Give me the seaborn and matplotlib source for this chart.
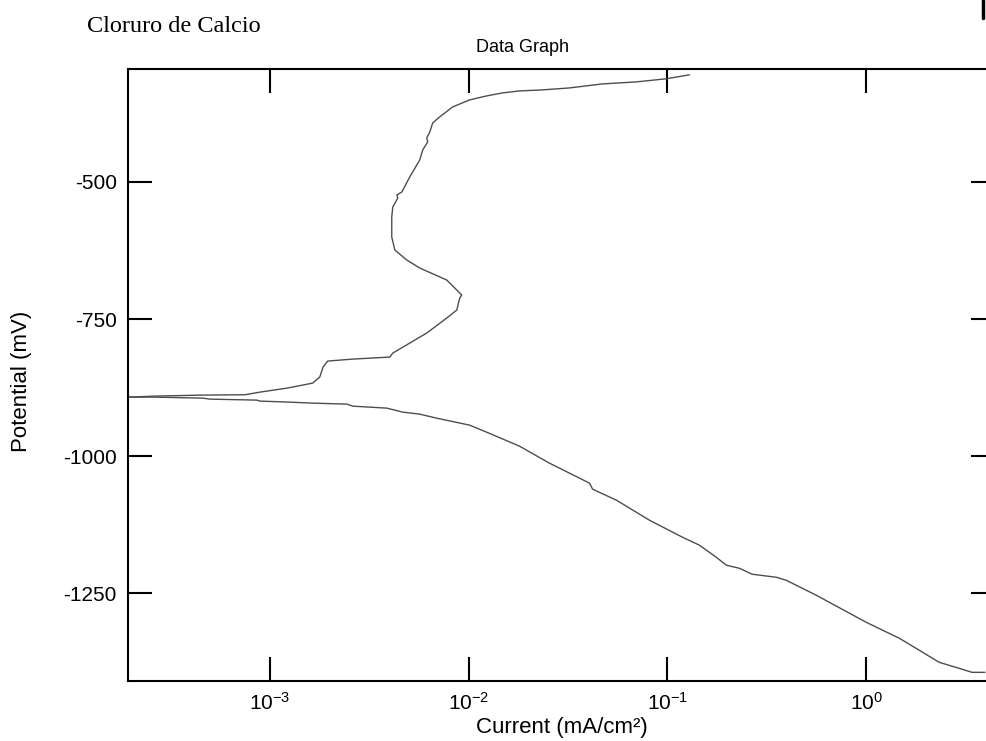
import numpy as np
import pandas as pd
import matplotlib
matplotlib.use("Agg")
import matplotlib.pyplot as plt
import seaborn as sns
from matplotlib.lines import Line2D
from matplotlib.ticker import NullLocator, FixedLocator

# ---- data ----
# anodic branch: current (mA/cm2), potential (mV)
anodic_current = [1.95e-4, 2.64e-4, 4.45e-4, 7.49e-4, 8.91e-4, 1.22e-3, 1.64e-3, 1.78e-3,
                  1.85e-3, 1.95e-3, 2.61e-3, 4.01e-3, 4.15e-3, 5.05e-3, 6.15e-3, 7.75e-3,
                  8.71e-3, 9.01e-3, 9.23e-3, 8.71e-3, 7.75e-3, 5.67e-3, 4.88e-3, 4.25e-3,
                  4.10e-3, 4.10e-3, 4.15e-3, 4.40e-3, 4.35e-3, 4.61e-3, 5.05e-3, 5.67e-3,
                  5.87e-3, 6.22e-3, 6.15e-3, 6.37e-3, 6.59e-3, 7.14e-3, 8.31e-3, 1.01e-2,
                  1.23e-2, 1.48e-2, 1.80e-2, 2.35e-2, 3.22e-2, 4.71e-2, 6.98e-2, 9.77e-2,
                  0.129]
anodic_potential = [-892.3, -890.5, -888.7, -888.0, -883.2, -875.9, -866.8, -855.8,
                    -837.6, -826.6, -823.0, -819.3, -812.0, -793.8, -775.5, -748.2,
                    -733.6, -711.7, -706.2, -697.1, -678.8, -656.9, -642.3, -624.1,
                    -600.4, -563.9, -545.6, -529.2, -523.7, -518.2, -490.9, -459.9,
                    -441.6, -427.0, -419.7, -408.8, -392.3, -381.4, -363.1, -350.4,
                    -343.1, -337.6, -334.0, -332.1, -328.5, -321.2, -317.5, -312.0,
                    -304.7]
# cathodic branch
cathodic_current = [1.95e-4, 2.58e-4, 4.60e-4, 4.99e-4, 8.60e-4, 8.91e-4, 1.26e-3, 1.64e-3,
                    2.44e-3, 2.61e-3, 3.87e-3, 4.66e-3, 5.67e-3, 6.90e-3, 1.01e-2, 1.23e-2,
                    1.80e-2, 2.55e-2, 4.06e-2, 4.20e-2, 5.54e-2, 8.12e-2, 0.119, 0.145,
                    0.176, 0.198, 0.230, 0.267, 0.353, 0.396, 0.561, 1.00, 1.47, 2.33,
                    2.93, 3.41, 3.96]
cathodic_potential = [-892.3, -892.3, -894.2, -896.0, -897.8, -899.6, -901.5, -903.3,
                      -905.1, -908.8, -912.4, -919.7, -923.4, -930.7, -943.4, -956.2,
                      -981.7, -1012.8, -1049.3, -1060.2, -1080.3, -1116.8, -1147.8, -1162.4,
                      -1184.3, -1198.9, -1204.4, -1215.3, -1220.8, -1226.3, -1253.6, -1302.9,
                      -1332.1, -1375.9, -1386.8, -1394.2, -1394.2]

x_ticks = [1e-3, 1e-2, 1e-1, 1e0]
x_tick_labels = [r"$10^{-3}$", r"$10^{-2}$", r"$10^{-1}$", r"$10^{0}$"]
y_ticks = [-500, -750, -1000, -1250]

df_a = pd.DataFrame({"current": anodic_current, "potential": anodic_potential})
df_c = pd.DataFrame({"current": cathodic_current, "potential": cathodic_potential})

sns.set_theme(style="white")
plt.rcParams["font.family"] = ["Liberation Sans", "DejaVu Sans"]
plt.rcParams["axes.unicode_minus"] = False
plt.rcParams["mathtext.fontset"] = "custom"
plt.rcParams["mathtext.rm"] = "Liberation Sans"
plt.rcParams["mathtext.it"] = "Liberation Sans"
plt.rcParams["mathtext.bf"] = "Liberation Sans"

fig = plt.figure(figsize=(9.86, 7.41), dpi=100)
fig.patch.set_facecolor("white")
ax = fig.add_axes([128/986, 1 - 681/741, (995 - 128)/986, (681 - 69)/741])
ax.set_facecolor("white")

line_color = "#4d4d4d"
sns.lineplot(data=df_a, x="current", y="potential", ax=ax, sort=False,
             estimator=None, color=line_color, lw=1.0)
sns.lineplot(data=df_c, x="current", y="potential", ax=ax, sort=False,
             estimator=None, color=line_color, lw=1.0)

ax.set_xscale("log")
ax.set_xlim(1.93e-4, 4.45)
ax.set_ylim(-1410, -294)
ax.xaxis.set_major_locator(FixedLocator(x_ticks))
ax.xaxis.set_minor_locator(NullLocator())
ax.yaxis.set_major_locator(FixedLocator(y_ticks))
ax.set_xticklabels(x_tick_labels)

for s in ax.spines.values():
    s.set_visible(True)
    s.set_color("black")
    s.set_linewidth(1.5)

ax.tick_params(axis="both", which="major", direction="in", length=17, width=1.5,
               color="black", labelsize=15, labelcolor="black",
               top=True, right=True, bottom=True, left=True)
ax.tick_params(axis="y", pad=8)
ax.tick_params(axis="x", pad=8)

ax.set_xlabel("Current (mA/cm²)", fontsize=16, color="black")
ax.set_ylabel("Potential (mV)", fontsize=16, color="black")
ax.xaxis.set_label_coords(0.5, -(717 - 681)/612)
ax.yaxis.set_label_coords(-(96)/867, 0.49)

fig.text(522/986, 1 - 47/741, "Data Graph", ha="center", va="center",
         fontsize=13, color="black")
fig.text(87/986, 1 - 32/741, "Cloruro de Calcio", ha="left", va="baseline",
         fontsize=17.5, color="black", family=["Liberation Serif", "DejaVu Serif"])

# small scanning mark at the top-right corner of the page
fig.add_artist(Line2D([983/986, 983/986], [1, 1 - 18/741], transform=fig.transFigure,
                      color="black", lw=2.5))

fig.savefig("out.png", dpi=100, facecolor="white")
